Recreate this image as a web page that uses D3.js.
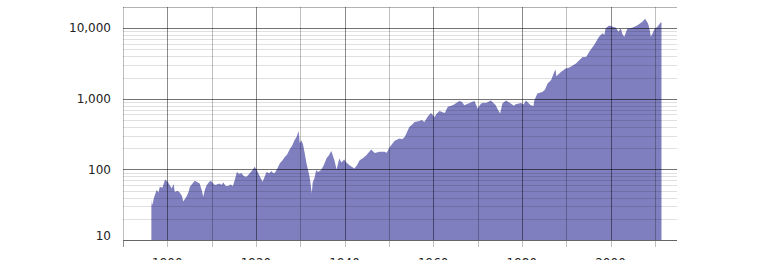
<!DOCTYPE html>
<html><head><meta charset="utf-8">
<script src="https://cdn.jsdelivr.net/npm/d3@7"></script>
<style>html,body{margin:0;padding:0;background:#fff;}svg{display:block;}</style>
</head><body>
<svg id="chart" width="760" height="260"></svg>
<script>
const years = [1896.4,1896.5,1896.7,1897.0,1897.6,1898.0,1898.3,1898.9,1899.5,1900.1,1900.5,1901.0,1901.4,1901.7,1902.3,1902.8,1903.3,1903.6,1904.3,1904.8,1905.1,1905.6,1906.2,1906.8,1907.3,1907.8,1908.1,1908.5,1908.9,1909.4,1909.8,1910.3,1910.7,1911.2,1911.8,1912.2,1912.6,1913.2,1913.7,1914.3,1914.8,1915.2,1915.7,1916.2,1916.7,1917.3,1917.9,1918.6,1919.2,1919.7,1920.3,1920.9,1921.5,1922.0,1922.4,1923.0,1923.5,1923.8,1924.2,1924.8,1925.4,1926.0,1926.5,1927.0,1927.6,1928.2,1928.7,1929.2,1929.6,1929.9,1930.2,1930.6,1931.0,1931.4,1932.1,1932.6,1932.8,1933.2,1933.6,1934.0,1934.7,1935.3,1935.9,1936.5,1937.0,1937.7,1938.2,1938.8,1939.3,1939.9,1940.4,1941.1,1942.2,1942.8,1943.4,1944.2,1944.9,1946.0,1946.8,1947.9,1949.0,1949.5,1950.1,1951.3,1952.4,1953.0,1953.6,1954.6,1955.2,1955.8,1956.9,1957.4,1958.0,1958.8,1959.5,1960.3,1960.8,1961.4,1962.6,1963.3,1964.4,1965.2,1965.9,1966.5,1967.0,1968.2,1969.3,1970.0,1970.8,1971.4,1971.9,1973.0,1974.1,1974.6,1975.1,1975.6,1976.4,1977.5,1978.2,1978.6,1979.8,1980.4,1980.9,1982.0,1982.6,1982.8,1983.5,1984.6,1985.2,1985.8,1986.6,1987.3,1987.6,1987.8,1988.8,1989.9,1990.6,1991.0,1992.2,1993.7,1994.5,1995.2,1996.3,1997.4,1997.8,1998.2,1998.6,1998.9,1999.7,2000.4,2001.2,2001.8,2002.3,2002.7,2003.1,2003.8,2004.9,2006.0,2007.2,2007.8,2008.5,2008.9,2009.1,2009.4,2010.0,2010.5,2010.8,2011.3,2011.5];
const values = [38,31,33,40,51,47,57,55,72,67,60,54,62,48,50,47,42,35,41,48,57,62,69,66,63,50,41,52,60,66,69,64,60,61,63,60,65,58,58,61,58,70,92,86,89,80,79,88,97,109,95,79,67,80,92,88,95,90,88,102,122,135,150,162,191,220,260,290,350,235,260,230,170,122,79,46,65,75,98,92,98,115,143,160,183,135,100,143,125,138,125,115,103,115,135,145,159,191,171,178,178,172,204,254,274,268,290,400,430,470,487,500,470,565,630,555,620,670,630,770,810,870,930,900,810,875,930,728,860,880,875,950,810,700,620,860,950,860,800,840,875,830,950,810,790,950,1190,1250,1350,1650,1850,2390,2600,2090,2390,2700,2750,2850,3170,3930,3900,4640,5780,7600,8000,8500,8000,10000,10900,10600,10200,8900,10000,8200,7600,9800,10200,10900,12400,13600,11600,9000,7600,8200,10000,10300,10900,12100,12100];
const xTickYears = [1890,1900,1910,1920,1930,1940,1950,1960,1970,1980,1990,2000,2010];
const xLabelYears = [1900,1920,1940,1960,1980,2000];
const yMajor = [10,100,1000,10000];
const yLabels = ["10","100","1,000","10,000"];

const svg = d3.select("#chart");
const L = 123, R = 677, T = 7, B = 240;
const x = d3.scaleLinear().domain([1890, 2015]).range([L, R]);
const y = d3.scaleLog().domain([10, 20000]).range([B, T]);

const data = years.map((yr, i) => ({yr, v: values[i]}));

const area = d3.area().x(d => x(d.yr)).y0(B).y1(d => y(d.v)).curve(d3.curveLinear);
svg.append("path").datum(data).attr("d", area).attr("fill", "#7f7fbf");

const minor = [];
for (let d = 10; d < 20000; d *= 10) for (let k = 2; k <= 9; k++) { if (d*k <= 20000) minor.push(d*k); }
svg.append("g").selectAll("line").data(minor).join("line")
  .attr("x1", L).attr("x2", R)
  .attr("y1", d => Math.round(y(d)) + 0.5).attr("y2", d => Math.round(y(d)) + 0.5)
  .attr("stroke", "rgba(0,0,0,0.12)").attr("stroke-width", 1);

svg.append("g").selectAll("line").data(xTickYears.filter(d => d > 1890)).join("line")
  .attr("x1", d => Math.round(x(d)) + 0.5).attr("x2", d => Math.round(x(d)) + 0.5)
  .attr("y1", T).attr("y2", B)
  .attr("stroke", d => (d % 20 === 0) ? "rgba(0,0,0,0.45)" : "rgba(0,0,0,0.25)").attr("stroke-width", 1);

svg.append("g").selectAll("line").data(yMajor.slice(1)).join("line")
  .attr("x1", L).attr("x2", R)
  .attr("y1", d => Math.round(y(d)) + 0.5).attr("y2", d => Math.round(y(d)) + 0.5)
  .attr("stroke", "rgba(0,0,0,0.55)").attr("stroke-width", 1);

svg.append("line").attr("x1", L).attr("x2", R).attr("y1", T + 0.5).attr("y2", T + 0.5)
  .attr("stroke", "rgba(0,0,0,0.2)");
svg.append("line").attr("x1", L + 0.5).attr("x2", L + 0.5).attr("y1", T).attr("y2", B + 7)
  .attr("stroke", "rgba(0,0,0,0.25)");

svg.append("g").selectAll("line").data(xTickYears).join("line")
  .attr("x1", d => Math.round(x(d)) + 0.5).attr("x2", d => Math.round(x(d)) + 0.5)
  .attr("y1", B).attr("y2", B + 7)
  .attr("stroke", "rgba(0,0,0,0.25)");

svg.append("line").attr("x1", L).attr("x2", R).attr("y1", B + 0.5).attr("y2", B + 0.5)
  .attr("stroke", "#666");

svg.append("g").selectAll("text").data(yMajor).join("text")
  .attr("x", 111).attr("y", (d, i) => y(d) - (i === 0 ? 4 : 0))
  .attr("dy", "0.35em").attr("text-anchor", "end")
  .attr("font-family", "DejaVu Sans").attr("font-size", 12).attr("fill", "#222")
  .text((d, i) => yLabels[i]);

svg.append("g").selectAll("text").data(xLabelYears).join("text")
  .attr("x", d => x(d)).attr("y", 267)
  .attr("text-anchor", "middle")
  .attr("font-family", "DejaVu Sans").attr("font-size", 12).attr("fill", "#222")
  .text(d => d);
</script>
</body></html>
